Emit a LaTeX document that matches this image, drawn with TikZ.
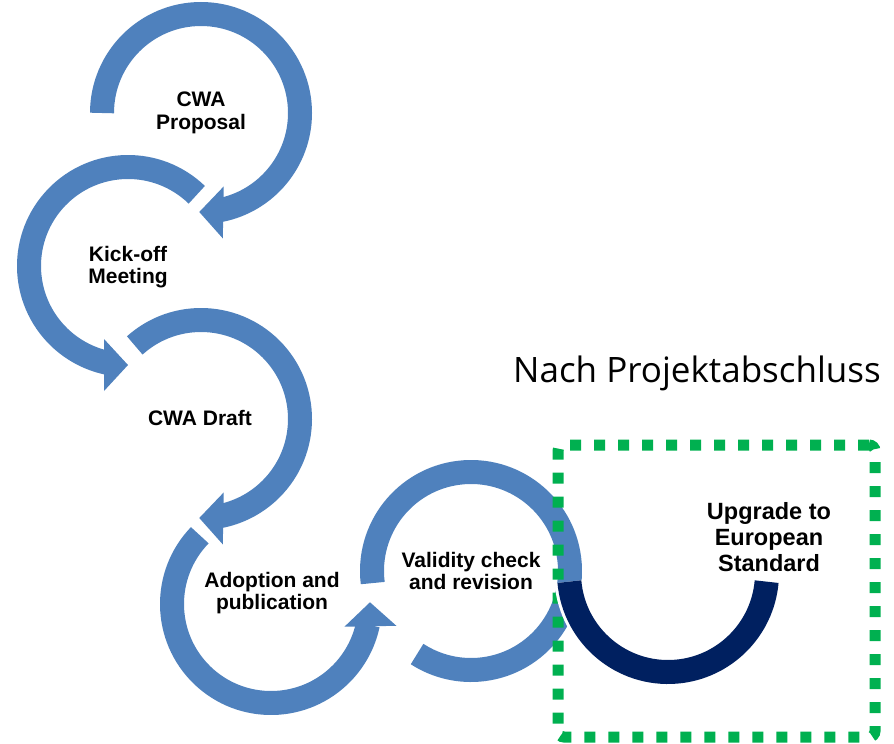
\documentclass[tikz,border=0pt]{standalone}
\usepackage{fontspec}
\setmainfont{Liberation Sans}
\newfontfamily\titlefont{Open Sans}
\usetikzlibrary{calc}
\definecolor{cycleblue}{RGB}{79,129,189}
\definecolor{upgradenavy}{RGB}{0,32,96}
\definecolor{aftergreen}{RGB}{0,176,80}
\tikzset{
  ring/.style={draw=cycleblue,line width=24pt},
  steplabel/.style={align=center,inner sep=0pt,font=\bfseries\fontsize{21}{22.5}\selectfont},
}
\newcommand\cyclehead[3]{\fill[cycleblue] ($(#1)+(#2:99pt)$) coordinate (tip) -- ($(tip)+(#3:24pt)+(#2:26pt)$) -- ($(tip)+(#3:24pt)+(#2:-26pt)$) -- cycle;}

\begin{document}
\begin{tikzpicture}[x=1pt,y=1pt]
  \useasboundingbox (0,0) rectangle (894,-744);
  \coordinate (c1) at (201,-113);
  \coordinate (c2) at (128,-266);
  \coordinate (c3) at (201,-419);
  \coordinate (c4) at (271,-604);
  \coordinate (c5) at (471,-571);
  \coordinate (c6) at (668,-573);
  \draw[ring] ($(c1)+(180:99pt)$) arc[start angle=180,end angle=-79,radius=99pt];
  \cyclehead{c1}{-91}{-1}
  \draw[ring] ($(c2)+(46:99pt)$) arc[start angle=46,end angle=258,radius=99pt];
  \cyclehead{c2}{270}{180}
  \draw[ring] ($(c3)+(132:99pt)$) arc[start angle=132,end angle=-79,radius=99pt];
  \cyclehead{c3}{-91}{-1}
  \draw[ring] ($(c4)+(136:99pt)$) arc[start angle=136,end angle=348,radius=99pt];
  \cyclehead{c4}{1}{-89}
  \draw[ring] ($(c5)+(187:99pt)$) arc[start angle=187,end angle=-123,radius=99pt];
  \node[draw=aftergreen,line width=11pt,dash pattern=on 11pt off 13pt,rounded corners=6pt,minimum width=317pt,minimum height=292pt] (after) at (716.5,-591) {};
  \draw[white,line width=30pt] ($(c6)+(185:99pt)$) arc[start angle=185,end angle=355,radius=99pt];
  \draw[upgradenavy,line width=24pt] ($(c6)+(185:99pt)$) arc[start angle=185,end angle=355,radius=99pt];
  \node[steplabel] (proposal) at (201,-113) {CWA\\Proposal};
  \node[steplabel] (kickoff) at (128,-267) {Kick-off\\Meeting};
  \node[steplabel] (draft) at (200,-418) {CWA Draft};
  \node[steplabel] (adoption) at (272,-593) {Adoption and\\publication};
  \node[steplabel] (validity) at (471,-571) {Validity check\\and revision};
  \node[steplabel,font=\bfseries\fontsize{23.5}{26}\selectfont] (upgrade) at (769,-537) {Upgrade to\\European\\Standard};
  \node[anchor=base west,inner sep=0pt,font=\titlefont\fontsize{35}{40}\selectfont] (nach) at (513,-382) {Nach Projektabschluss};
\end{tikzpicture}
\end{document}
